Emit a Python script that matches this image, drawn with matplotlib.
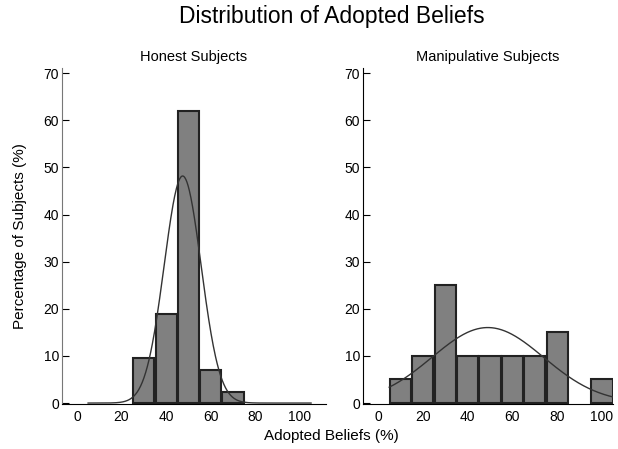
import numpy as np
import matplotlib
matplotlib.use("Agg")
import matplotlib.pyplot as plt

plt.rcParams['font.family'] = ['Liberation Sans', 'DejaVu Sans']

# histogram bins (left edges, width 10) and percentage of subjects per bin
honest_bins = [25, 35, 45, 55, 65]
honest_pct = [9.5, 19.0, 61.9, 7.1, 2.4]
manip_bins = [5, 15, 25, 35, 45, 55, 65, 75, 85, 95]
manip_pct = [5, 10, 25, 10, 10, 10, 10, 15, 0, 5]

# fitted normal curves (mean, sd)
honest_fit = (47.4, 8.28)
manip_fit = (49.0, 24.9)

bin_width = 10
x_ticks = [0, 20, 40, 60, 80, 100]
y_ticks = [0, 10, 20, 30, 40, 50, 60, 70]

fig = plt.figure(figsize=(6.18, 4.49), dpi=100)
ax1 = fig.add_axes([62 / 618, 45 / 449, 264 / 618, 336 / 449])
ax2 = fig.add_axes([363 / 618, 45 / 449, 250 / 618, 336 / 449])


def draw_panel(ax, bins, pct, fit, title, xlim):
    gap = 0.25
    # empty bins get no bar at all
    keep = [(b, p) for b, p in zip(bins, pct) if p > 0]
    lefts = np.array([b for b, _ in keep]) + gap
    heights = [p for _, p in keep]
    ax.bar(lefts, heights, width=bin_width - 2 * gap, align='edge',
           color='#808080', edgecolor='#222222', linewidth=1.5, zorder=2)
    mu, sd = fit
    xs = np.linspace(5, 105, 400)
    ys = 100 * bin_width / (sd * np.sqrt(2 * np.pi)) * np.exp(-0.5 * ((xs - mu) / sd) ** 2)
    ax.plot(xs, ys, color='#333333', linewidth=1.0, zorder=3)
    ax.set_xlim(*xlim)
    ax.set_ylim(-0.2, 71.1)
    ax.set_xticks(x_ticks)
    ax.set_yticks(y_ticks)
    ax.tick_params(axis='x', length=0, labelsize=10, pad=4)
    ax.tick_params(axis='y', direction='in', length=5, labelsize=10, pad=2)
    for s in ['top', 'right']:
        ax.spines[s].set_visible(False)
    ax.set_title(title, fontsize=10.5, pad=5)


draw_panel(ax1, honest_bins, honest_pct, honest_fit, 'Honest Subjects', (-6.7, 111.7))
draw_panel(ax2, manip_bins, manip_pct, manip_fit, 'Manipulative Subjects', (-6.7, 104.9))
ax1.spines['left'].set_color('#777777')

fig.text(331.5 / 618, 1 - 16 / 449, 'Distribution of Adopted Beliefs',
         ha='center', va='center', fontsize=16.5)
fig.text(331.5 / 618, 1 - 436 / 449, 'Adopted Beliefs (%)',
         ha='center', va='center', fontsize=11)
fig.text(20 / 618, 1 - 236 / 449, 'Percentage of Subjects (%)',
         ha='center', va='center', rotation=90, fontsize=11)

fig.savefig('out.png', dpi=100)
